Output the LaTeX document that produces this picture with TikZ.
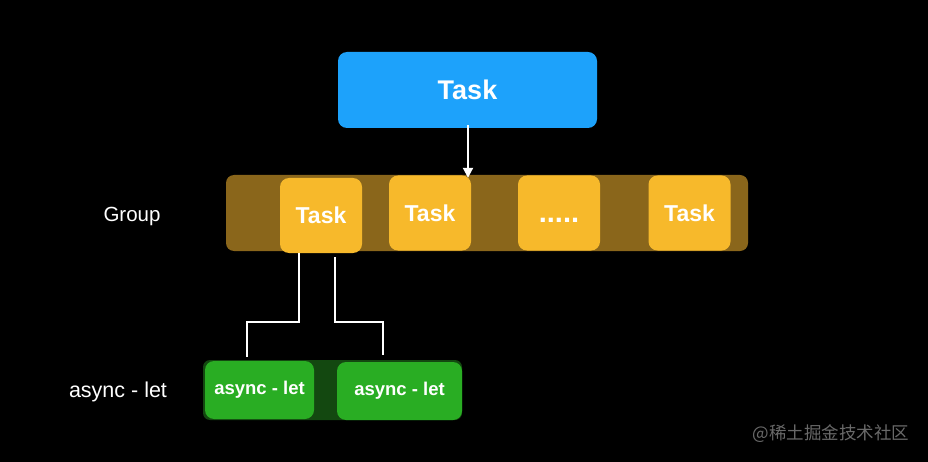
\documentclass[tikz,border=0pt]{standalone}
\usepackage{fontspec}
\setmainfont{Liberation Sans}
\newfontfamily\cjk{Noto Sans CJK SC}
\usetikzlibrary{arrows.meta,positioning}
\definecolor{taskblue}{RGB}{29,162,251}
\definecolor{taskyellow}{RGB}{247,185,43}
\definecolor{groupbrown}{RGB}{138,102,27}
\definecolor{letgreen}{RGB}{41,173,35}
\definecolor{letdark}{RGB}{19,72,16}
\definecolor{markgray}{RGB}{105,105,105}

\begin{document}
\begin{tikzpicture}[x=1pt,y=-1pt,>={Triangle[length=10pt,width=10pt]},
  box/.style={rounded corners=9pt,inner sep=0pt,text=white,font=\bfseries},
  task/.style={box,fill=taskyellow,minimum width=82,minimum height=75,font=\bfseries\fontsize{23}{26}\selectfont},
  asl/.style={box,fill=letgreen,minimum height=58,font=\bfseries\fontsize{18.5}{20}\selectfont},
  tag/.style={text=white,anchor=base,font=\fontsize{20.5}{24}\selectfont},
  link/.style={draw=white,line width=2pt}]
\fill[black](0,0) rectangle (928,462);
\node[box,fill=taskblue,minimum width=259,minimum height=76,font=\bfseries\fontsize{27}{30}\selectfont](top) at (467.5,90){Task};
\node[box,fill=groupbrown,rounded corners=8pt,minimum width=522,minimum height=76](grp) at (487,213){};
\node[task](t1) at (321,215.5){Task};
\node[task](t2) at (430,213){Task};
\node[task,font=\bfseries\fontsize{29}{30}\selectfont](dots) at (559,213){\vphantom{T}.....};
\node[task](t4) at (689.5,213){Task};
\node[tag](glab) at (132,222){Group};
\node[box,fill=letdark,rounded corners=7pt,minimum width=259,minimum height=60](lets) at (332.5,390){};
\node[asl,minimum width=109](al1) at (259.5,390){async - let};
\node[asl,minimum width=125](al2) at (399.5,391){async - let};
\node[tag,font=\fontsize{21.5}{24}\selectfont](llab) at (118,397){async - let};
\node[text=markgray,font=\cjk\fontsize{17.5}{20}\selectfont](mark) at (831,434){@稀土掘金技术社区};
\coordinate (tip) at ([xshift=0.5pt,yshift=-3pt]top.south |- grp.north);
\draw[link,->]([xshift=0.5pt,yshift=3pt]top.south)--(tip);
\draw[link]([xshift=-22pt]t1.south)--++(0,69)-|([xshift=-12.5pt,yshift=4pt]al1.north);
\draw[link]([xshift=14pt,yshift=-4pt]t1.south)--++(0,65)-|([xshift=-16.5pt,yshift=7pt]al2.north);
\end{tikzpicture}
\end{document}
